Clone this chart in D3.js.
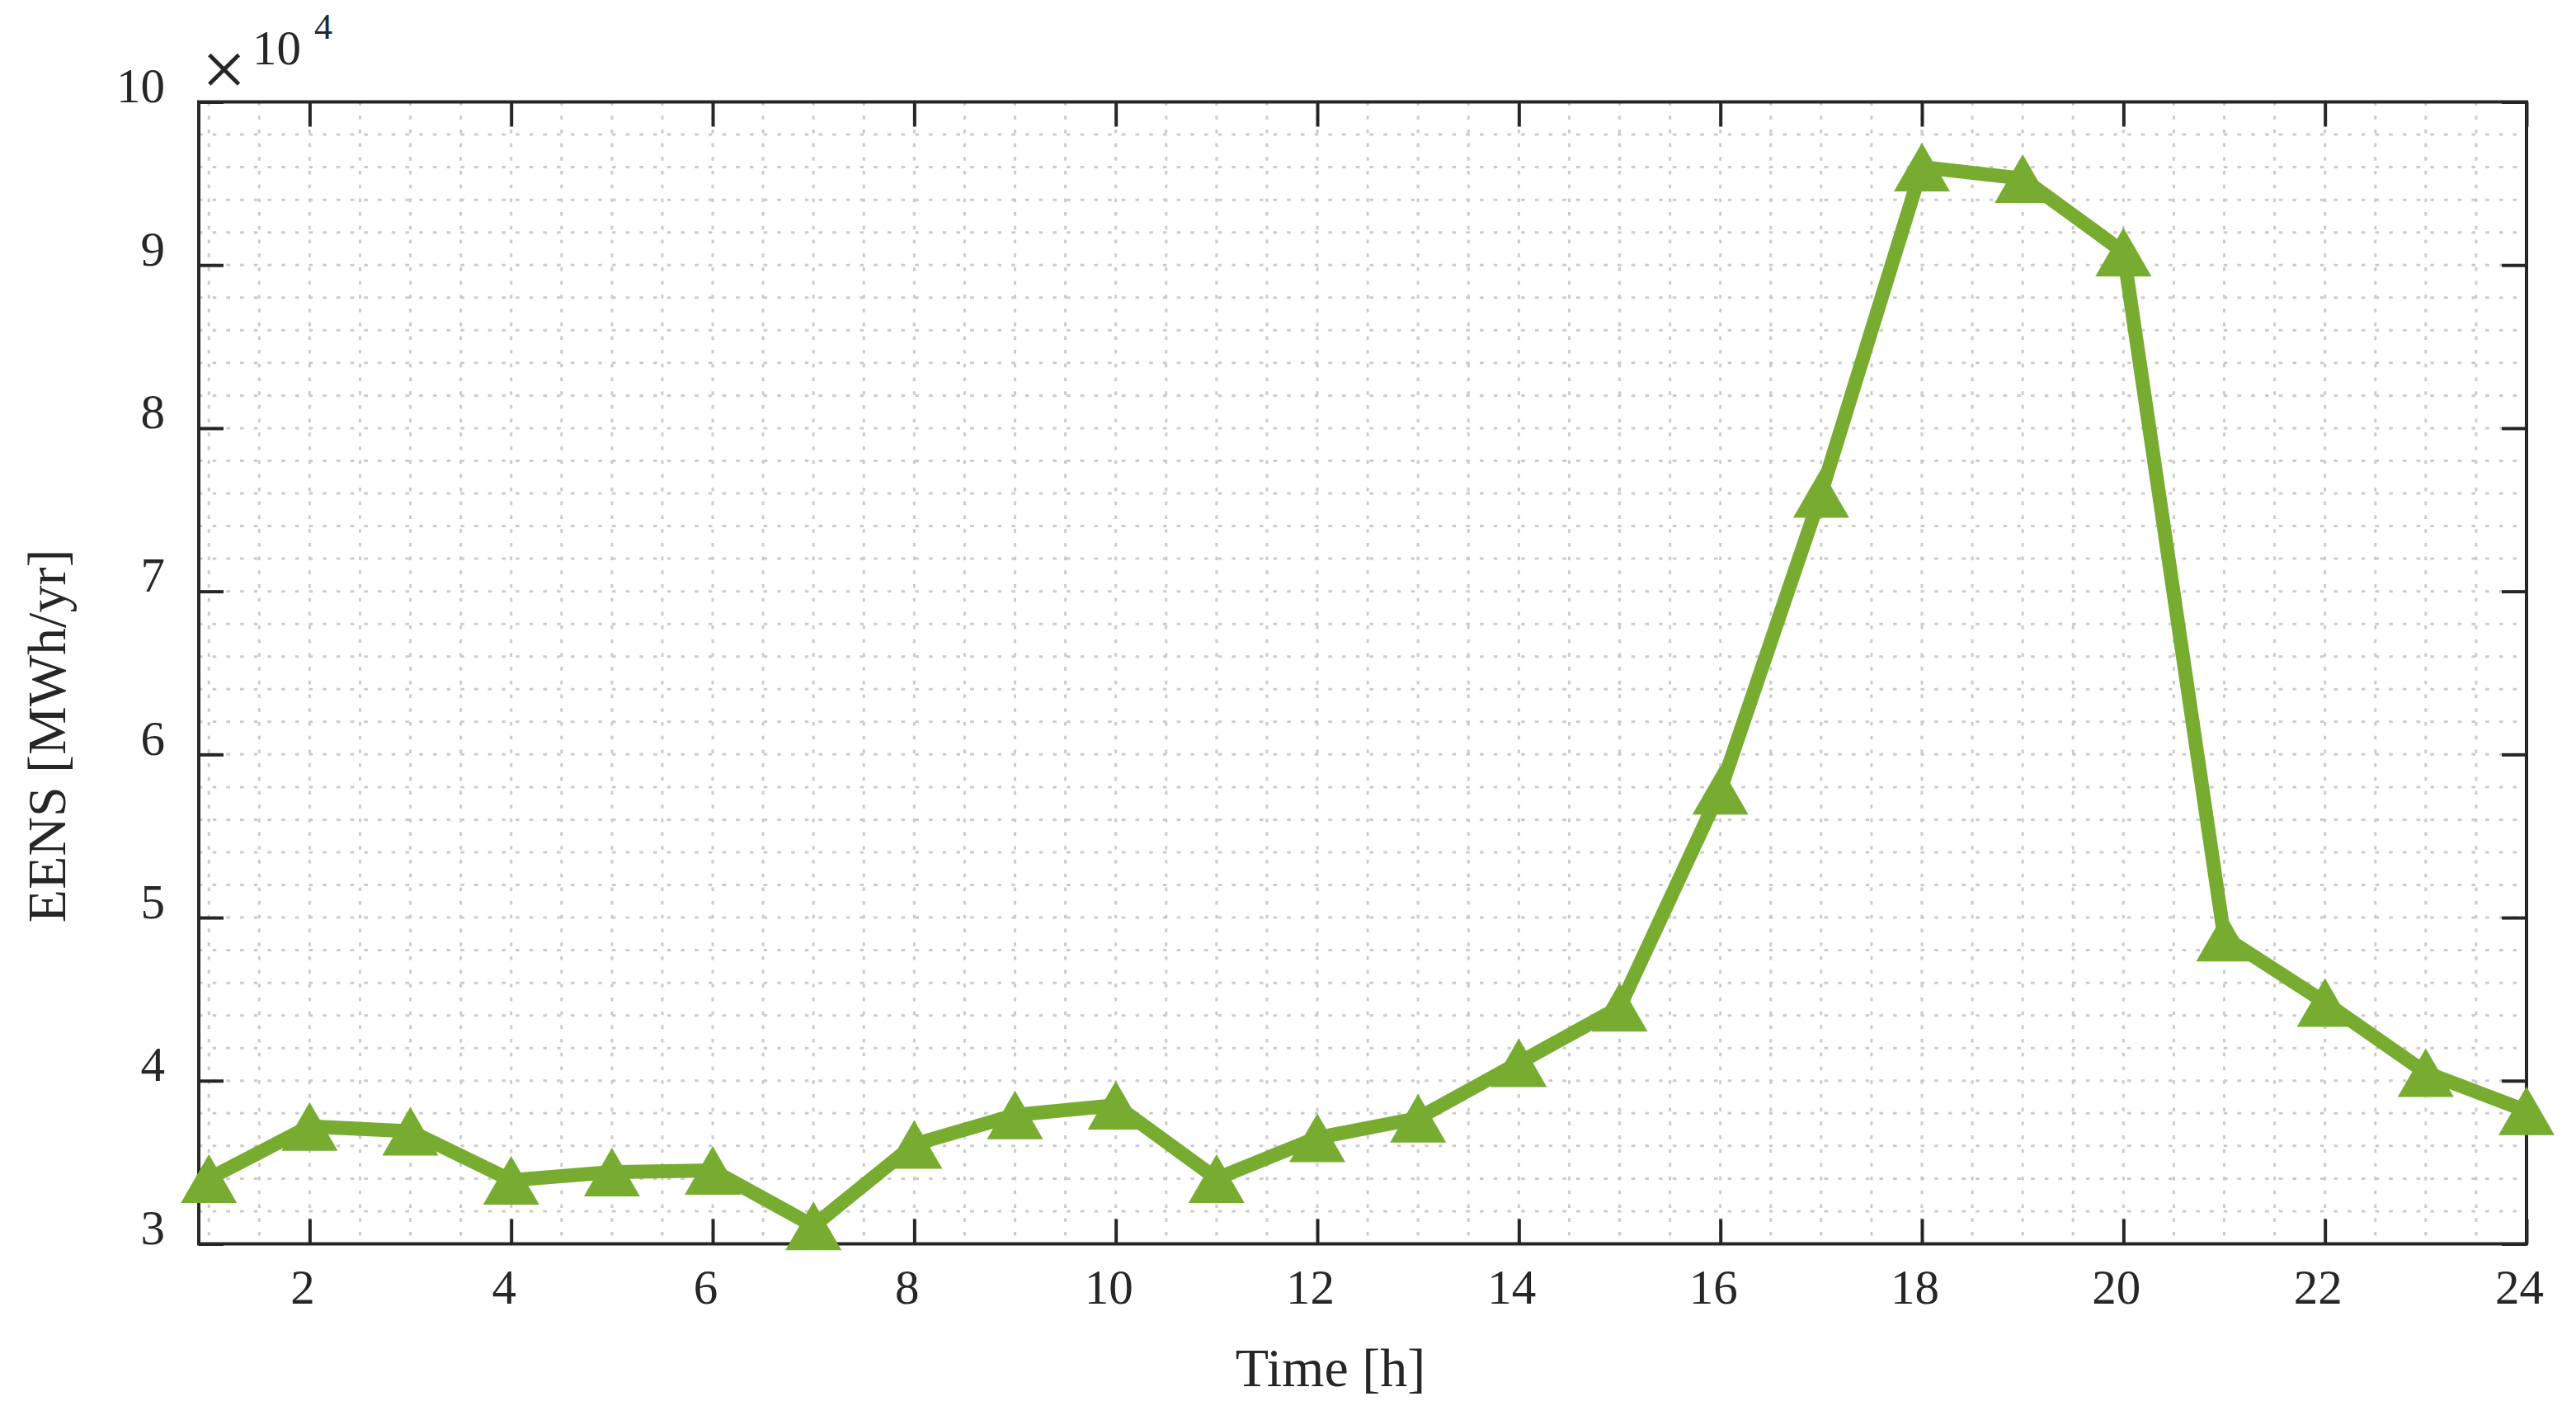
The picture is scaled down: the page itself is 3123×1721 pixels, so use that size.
<!DOCTYPE html>
<html>
<head>
<meta charset="utf-8">
<script src="https://cdn.jsdelivr.net/npm/d3@7"></script>
<style>
  html, body { margin: 0; padding: 0; background: #ffffff; }
  svg { display: block; }
  text { font-family: "Liberation Serif", "Times New Roman", serif; fill: #262626; }
</style>
</head>
<body>
<svg id="chart" width="3123" height="1721"></svg>
<script>
// ---- data ----
const hours = [1, 2, 3, 4, 5, 6, 7, 8, 9, 10, 11, 12, 13, 14, 15, 16, 17, 18, 19, 20, 21, 22, 23, 24];
// EENS values in units of 10^4 MWh/yr
const eens = [3.40, 3.72, 3.69, 3.39, 3.44, 3.45, 3.11, 3.61, 3.79, 3.85, 3.40, 3.65,
              3.77, 4.11, 4.45, 5.78, 7.60, 9.60, 9.53, 9.08, 4.88, 4.48, 4.05, 3.815];
const xTicks = [2, 4, 6, 8, 10, 12, 14, 16, 18, 20, 22, 24];
const yTicks = [3, 4, 5, 6, 7, 8, 9, 10];
const xLabel = "Time [h]";
const yLabel = "EENS [MWh/yr]";
const exponentLabel = "4";

// ---- layout ----
const L = 241, R = 3063, T = 123.5, B = 1507.5;
const ink = "#262626";
const green = "#77AC30";

const svg = d3.select("#chart");
svg.append("rect").attr("width", 3123).attr("height", 1721).attr("fill", "#fff");

const x = d3.scaleLinear().domain([0.9, 24]).range([L, R]);
const y = d3.scaleLinear().domain([3, 10]).range([B, T]);

// ---- grid ----
const grid = svg.append("g").attr("stroke", "#cbcbcb").attr("stroke-width", 3)
  .attr("stroke-dasharray", "4.5 12.2");
const xGrid = d3.range(1, 24.001, 0.5);
const yGrid = d3.range(3.2, 9.9, 0.2);
grid.selectAll("line.v").data(xGrid).join("line").attr("class", "v")
  .attr("x1", d => x(d)).attr("x2", d => x(d)).attr("y1", T).attr("y2", B);
grid.selectAll("line.h").data(yGrid).join("line").attr("class", "h")
  .attr("x1", L).attr("x2", R).attr("y1", d => y(d)).attr("y2", d => y(d));

// ---- axes ----
function styleAxis(g) {
  g.select(".domain").remove();
  g.selectAll(".tick line").attr("stroke", ink).attr("stroke-width", 4);
}
const xAxis = svg.append("g").attr("transform", `translate(0,${B})`)
  .call(d3.axisBottom(x).tickValues(xTicks).tickSize(-30).tickSizeOuter(0).tickFormat(d3.format("d")));
styleAxis(xAxis);
xAxis.selectAll(".tick text").attr("y", 72).attr("dy", null).attr("dx", -9)
  .attr("font-size", 59).attr("font-family", "Liberation Serif").attr("fill", ink);

svg.append("g").attr("transform", `translate(0,${T})`)
  .call(d3.axisTop(x).tickValues(xTicks).tickSize(-30).tickSizeOuter(0).tickFormat(""))
  .call(styleAxis);

const yAxis = svg.append("g").attr("transform", `translate(${L},0)`)
  .call(d3.axisLeft(y).tickValues(yTicks).tickSize(-30).tickSizeOuter(0).tickFormat(d3.format("d")));
styleAxis(yAxis);
yAxis.selectAll(".tick text").attr("x", -41).attr("dy", null)
  .attr("font-size", 59).attr("font-family", "Liberation Serif").attr("fill", ink);

svg.append("g").attr("transform", `translate(${R},0)`)
  .call(d3.axisRight(y).tickValues(yTicks).tickSize(-30).tickSizeOuter(0).tickFormat(""))
  .call(styleAxis);

svg.append("rect").attr("x", L).attr("y", T).attr("width", R - L).attr("height", B - T)
  .attr("fill", "none").attr("stroke", ink).attr("stroke-width", 4);

// ---- series ----
const pts = hours.map((h, i) => [h, eens[i]]);
svg.append("path").datum(pts)
  .attr("d", d3.line().x(d => x(d[0])).y(d => y(d[1])))
  .attr("fill", "none").attr("stroke", green).attr("stroke-width", 17)
  .attr("stroke-linejoin", "miter").attr("stroke-miterlimit", 2);
svg.append("g").selectAll("path").data(pts).join("path")
  .attr("transform", d => `translate(${x(d[0])},${y(d[1])})`)
  .attr("d", "M0,-29.5L34,29.5L-34,29.5Z")
  .attr("fill", green);

// ---- labels ----
svg.append("text").attr("x", 1613).attr("y", 1680).attr("text-anchor", "middle")
  .attr("font-size", 66).text(xLabel);
svg.append("text").attr("transform", "translate(79,892) rotate(-90)").attr("text-anchor", "middle")
  .attr("font-size", 66).text(yLabel);

// exponent multiplier
svg.append("text").attr("x", 271.5).attr("y", 116).attr("text-anchor", "middle")
  .attr("font-size", 96).text("×");
svg.append("text").attr("x", 306).attr("y", 78).attr("font-size", 59).text("10");
svg.append("text").attr("x", 381).attr("y", 47).attr("font-size", 44).text(exponentLabel);
</script>
</body>
</html>
